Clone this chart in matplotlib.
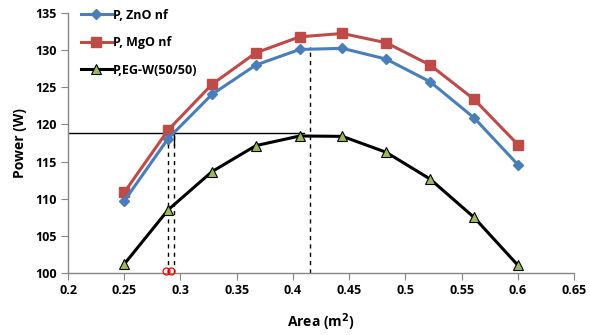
import matplotlib
matplotlib.use("Agg")
import matplotlib.pyplot as plt
from matplotlib.ticker import FuncFormatter

# data
area = [0.25, 0.289, 0.328, 0.367, 0.406, 0.444, 0.483, 0.522, 0.561, 0.6]
p_zno = [109.7, 118.1, 124.05, 128.0, 130.1, 130.25, 128.8, 125.75, 120.9, 114.6]
p_mgo = [110.85, 119.25, 125.4, 129.65, 131.8, 132.25, 131.0, 128.0, 123.4, 117.3]
p_egw = [101.2, 108.5, 113.65, 117.15, 118.45, 118.4, 116.25, 112.65, 107.5, 101.05]

h_level = 118.8
h_end = 0.41
v_lines = [0.2886, 0.2945]
v_peak = 0.4156
v_peak_top = 130.4

plt.rcParams["font.family"] = ["Open Sans", "DejaVu Sans"]

fig = plt.figure(figsize=(5.9, 3.35), dpi=100)
ax = fig.add_axes([0.1153, 0.185, 0.8577, 0.776])

blue = "#4A7EBB"
red = "#BE4B48"
green = "#9BBB59"

ax.plot(area, p_zno, color=blue, lw=2.2, marker="D", ms=5.5, mfc=blue, mec=blue,
        label="P, ZnO nf", zorder=4)
ax.plot(area, p_mgo, color=red, lw=2.2, marker="s", ms=7, mfc=red, mec=red,
        label="P, MgO nf", zorder=3)
ax.plot(area, p_egw, color="black", lw=2.2, marker="^", ms=7, mfc=green, mec="black",
        mew=0.8, label="P,EG-W(50/50)", zorder=4)

# reference lines
ax.plot([0.2, h_end], [h_level, h_level], color="black", lw=1.0, zorder=2)
for xv in v_lines:
    ax.plot([xv, xv], [100, h_level], color="black", lw=1.0, ls=(0, (3, 3)), zorder=2)
    ax.plot([xv, xv], [117.3, h_level], color="black", lw=1.0, zorder=2)
ax.plot([v_peak, v_peak], [100, v_peak_top], color="black", lw=1.0, ls=(0, (3, 3)), zorder=2)
ax.plot([v_lines[0] - 0.0015, v_lines[1] - 0.0025], [100.3, 100.3], ls="none", marker="o",
        ms=5, mfc="none", mec="red", mew=0.9, zorder=5, clip_on=False)

ax.set_xlim(0.2, 0.65)
ax.set_ylim(100, 135)
ax.set_xticks([0.2, 0.25, 0.3, 0.35, 0.4, 0.45, 0.5, 0.55, 0.6, 0.65])
ax.set_yticks(range(100, 136, 5))
ax.xaxis.set_major_formatter(FuncFormatter(lambda v, p: f"{v:g}"))

for side in ["top", "right"]:
    ax.spines[side].set_visible(False)
for side in ["left", "bottom"]:
    ax.spines[side].set_color("#868686")
    ax.spines[side].set_linewidth(1.0)
ax.tick_params(direction="out", length=5, color="#868686", labelsize=9, pad=3)
for lab in ax.get_xticklabels() + ax.get_yticklabels():
    lab.set_fontweight("bold")

ax.set_xlabel("Area (m$^\\mathbf{2}$)", fontsize=10, fontweight="bold", labelpad=10)
ax.set_ylabel("Power (W)", fontsize=10, fontweight="bold", labelpad=6)

leg = ax.legend(loc="upper left", bbox_to_anchor=(0.01, 1.045), frameon=False,
                prop={"weight": "bold", "size": 9}, handlelength=2.5,
                handletextpad=0.1, labelspacing=1.15, borderaxespad=0.2)

fig.savefig("out.png", dpi=100)
